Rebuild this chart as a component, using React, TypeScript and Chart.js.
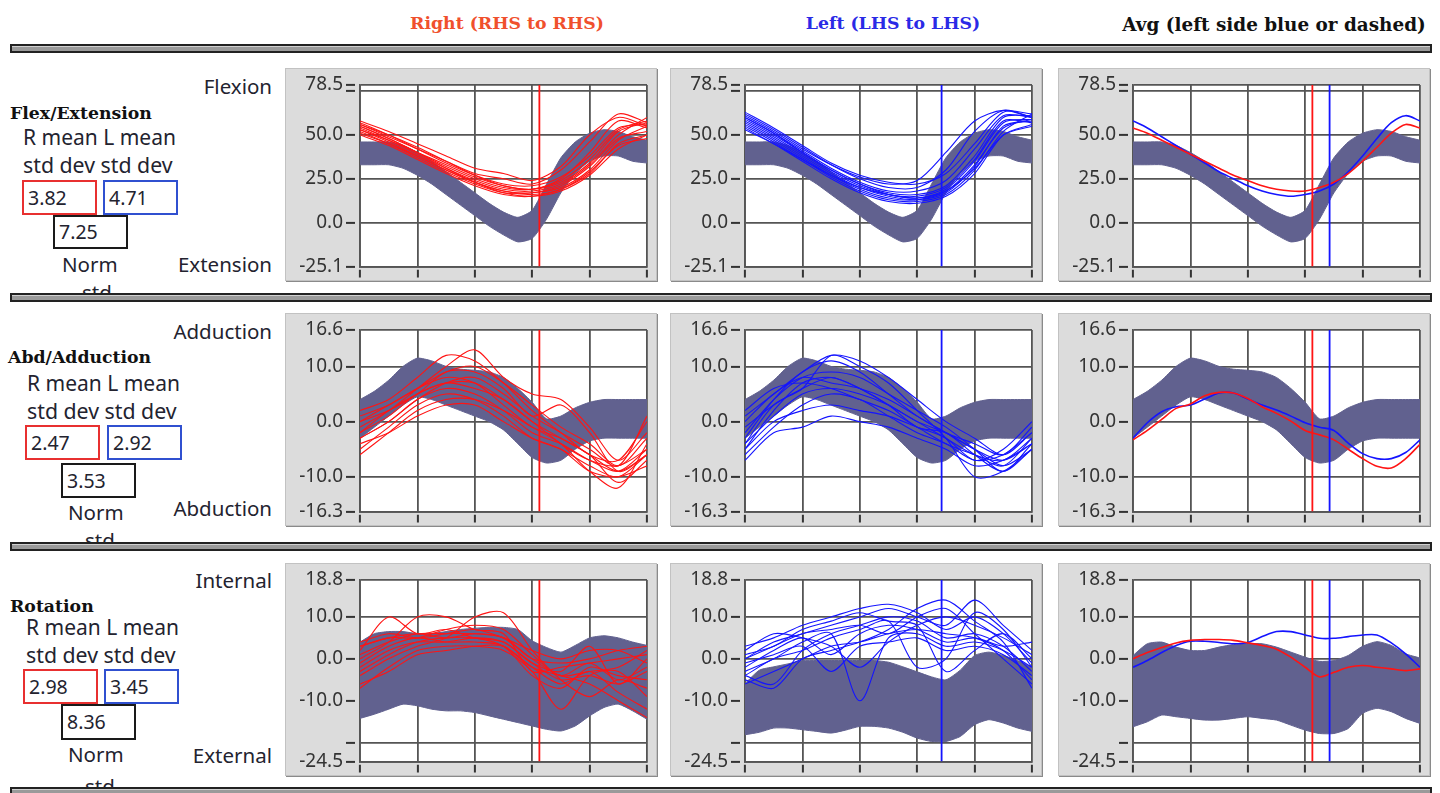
import React, { useEffect, useRef } from 'react';
import { Chart, registerables } from 'chart.js';

Chart.register(...registerables);

// ---------- x positions (% of gait cycle) ----------
const X11 = [0, 10, 20, 30, 40, 50, 60, 70, 80, 90, 100];
const X21 = [0, 5, 10, 15, 20, 25, 30, 35, 40, 45, 50, 55, 60, 65, 70, 75, 80, 85, 90, 95, 100];
const X_TICKS = [0, 20, 40, 60, 80, 100];

// ---------- toe-off markers ----------
const RIGHT_TOE_OFF = 62.5;
const LEFT_TOE_OFF = 68.5;

// ---------- headers / labels ----------
const HEADERS = ['Right (RHS to RHS)', 'Left (LHS to LHS)', 'Avg (left side blue or dashed)'];
const ROW_TITLES = ['Flex/Extension', 'Abd/Adduction', 'Rotation'];
const TOP_LABELS = ['Flexion', 'Adduction', 'Internal'];
const BOTTOM_LABELS = ['Extension', 'Abduction', 'External'];
const R_STD = ['3.82', '2.47', '2.98'];
const L_STD = ['4.71', '2.92', '3.45'];
const NORM_STD = ['7.25', '3.53', '8.36'];

// ---------- Flex / Extension ----------
const flexTicks = [78.5, 75, 50, 25, 0, -25.1];
const flexTickLabels = ['78.5', '', '50.0', '25.0', '0.0', '-25.1'];
const flexNormUpper = [46, 46, 46, 44, 40, 35, 29, 23, 17, 11, 6, 3, 7, 22, 37, 46, 51, 53, 52, 49, 47];
const flexNormLower = [33, 33, 33, 31, 27, 22, 16, 10, 4, -2, -7, -11, -9, 2, 17, 28, 35, 38, 38, 35, 34];
const flexRightMean = [54, 51, 47, 43, 39, 35, 31, 27, 24, 21, 19, 18, 18, 20, 23, 28, 35, 43, 51, 56, 54];
const flexLeftMean = [58, 54, 49, 44, 39, 34, 29, 25, 21, 18, 16, 15, 16, 18, 22, 29, 38, 48, 57, 61, 58];
const flexRightTrials = [
  [57, 50, 42, 34, 27, 22, 21, 26, 38, 54, 56],
  [52, 45, 37, 29, 22, 17, 17, 21, 32, 48, 52],
  [55, 48, 40, 32, 25, 20, 19, 24, 36, 53, 58],
  [53, 46, 38, 30, 23, 18, 17, 20, 30, 47, 55],
  [58, 52, 45, 38, 31, 28, 24, 32, 50, 60, 55],
  [56, 49, 42, 35, 28, 25, 22, 30, 46, 62, 57],
  [50, 44, 36, 28, 21, 16, 15, 19, 28, 45, 50],
  [54, 47, 39, 31, 24, 19, 18, 22, 33, 50, 60],
  [51, 45, 38, 30, 23, 18, 16, 19, 29, 44, 48],
  [56, 50, 43, 35, 27, 21, 19, 23, 34, 52, 57],
  [53, 47, 40, 33, 26, 21, 19, 25, 40, 58, 54],
  [55, 48, 40, 31, 23, 17, 15, 18, 27, 42, 50],
];
const flexLeftTrials = [
  [60, 51, 41, 31, 23, 18, 18, 24, 42, 61, 60],
  [56, 47, 37, 27, 19, 14, 13, 18, 33, 54, 59],
  [62, 53, 43, 33, 25, 20, 20, 30, 52, 64, 60],
  [55, 46, 36, 26, 18, 13, 12, 16, 30, 52, 62],
  [58, 49, 39, 29, 21, 16, 15, 20, 36, 58, 57],
  [61, 52, 42, 33, 26, 22, 24, 40, 58, 64, 60],
  [54, 45, 35, 25, 17, 12, 11, 15, 28, 50, 56],
  [59, 50, 40, 30, 22, 17, 16, 21, 38, 60, 61],
  [57, 48, 38, 28, 20, 15, 13, 17, 32, 55, 58],
  [63, 54, 44, 34, 27, 23, 22, 28, 45, 63, 62],
  [53, 45, 36, 27, 20, 16, 14, 18, 31, 50, 55],
  [60, 51, 40, 30, 22, 16, 14, 19, 35, 57, 59],
];

// ---------- Abd / Adduction ----------
const abdTicks = [16.6, 10, 0, -10, -16.3];
const abdTickLabels = ['16.6', '10.0', '0.0', '-10.0', '-16.3'];
const abdNormUpper = [4, 5.5, 7.5, 10, 11.5, 11, 10, 9.5, 9.3, 9, 8, 6, 3.5, 0.5, 1, 2.5, 3.5, 4, 4, 4, 4];
const abdNormLower = [-3, -1, 1, 3, 4.5, 4, 3, 2, 1, 0, -1.5, -4, -6.5, -7.5, -7, -5, -3.5, -3, -3, -3, -3];
const abdRightMean = [-3.3, -1.6, 0.4, 2.4, 3.2, 4.7, 5.3, 5.2, 4.2, 2.7, 1.5, 0.1, -1.6, -2.4, -3.3, -5, -6.7, -8.1, -8.4, -6.7, -4.1];
const abdLeftMean = [-3, -0.2, 1.8, 2.7, 3, 4.1, 5.2, 5.2, 4.1, 3, 2.1, 1, -0.2, -1, -1.6, -3.9, -5.8, -6.7, -6.7, -5.6, -3.3];
const abdRightTrials = [
  [-3, 0, 4, 6, 5, 2, -2, -4, -7, -9, -5],
  [-5, -1, 3, 5, 4, 1, -3, -5, -8, -10, -6],
  [0, 3, 6, 9, 10, 7, 3, -1, -4, -8, -3],
  [2, 4, 8, 12, 11, 7, 2, -2, -6, -7, 0],
  [-2, 1, 5, 7, 7, 4, 0, -3, -6, -11, -7],
  [-6, -2, 2, 4, 4, 2, -1, -4, -9, -12, -4],
  [-1, 2, 6, 10, 13, 8, 5, 4, -1, -7, -2],
  [-4, -2, 1, 3, 3, 0, -3, -5, -9, -10, -8],
  [1, 3, 6, 8, 7, 3, -1, -3, -6, -9, -6],
  [-3, 0, 4, 7, 8, 5, 1, -2, -5, -8, 1],
  [-2, 2, 5, 7, 6, 4, 0, -4, -7, -8, -5],
  [0, 2, 5, 9, 9, 6, 1, 3, -2, -9, -6],
];
const abdLeftTrials = [
  [-5, 2, 7, 8, 6, 3, 0, -3, -6, -7, -3],
  [-3, 4, 9, 11, 9, 5, 1, -2, -5, -8, -5],
  [0, 5, 8, 7, 6, 4, 1, -2, -4, -6, -1],
  [-7, -2, -1, 1, 0, -1, -3, -5, -8, -7, -4],
  [-4, 3, 6, 12, 10, 7, 2, -3, -10, -9, -5],
  [2, 6, 7, 6, 4, 2, -1, -4, -6, -8, -3],
  [-6, -1, 3, 5, 4, 1, -2, -4, -7, -6, -2],
  [-2, 4, 8, 9, 8, 5, 2, -1, -5, -9, -4],
  [-5, 0, 2, 3, 2, 1, -1, -3, -7, -5, 0],
  [1, 5, 9, 12, 11, 8, 4, 0, -3, -6, -2],
  [-4, 1, 5, 6, 5, 3, 0, -2, -5, -7, -4],
  [-1, 3, 6, 8, 6, 3, -1, -2, -6, -9, -5],
];

// ---------- Rotation ----------
const rotTicks = [18.8, 10, 0, -10, -20, -24.5];
const rotTickLabels = ['18.8', '10.0', '0.0', '-10.0', '', '-24.5'];
const rotNormUpperR = [4, 6, 6.5, 6.5, 6, 6, 6.5, 7, 7.3, 7.5, 7.5, 7, 4.3, 2.7, 1.6, 3.2, 5, 5.5, 5, 4, 3.2];
const rotNormLowerR = [-14.2, -13.2, -12, -10.8, -11.2, -12, -12.4, -12.4, -12.8, -13.6, -14.4, -15.2, -16, -16.8, -17.2, -16, -13.6, -11.6, -10.8, -12.4, -14.4];
const rotNormUpperL = [-5.9, -2.7, -1.9, -1.2, -0.4, -0.4, -0.4, -0.4, -0.4, -0.4, -0.8, -1.9, -3.1, -4.3, -5, -2.7, 0.8, 1.6, 0.8, -0.4, -2];
const rotNormLowerL = [-18.1, -17.5, -16.5, -16.5, -16.9, -17.3, -17.7, -17, -16.1, -16.1, -16.5, -17.5, -18.9, -19.7, -19.7, -18.5, -15.7, -14.5, -15.3, -16.5, -17.3];
const rotNormUpperAvg = [0.8, 3.6, 4, 2.8, 2, 2, 2.8, 3.4, 3.6, 3.6, 2.8, 1.6, 0.4, -0.6, -0.4, 0.8, 3, 4.1, 3.2, 1.2, 0.2];
const rotNormLowerAvg = [-16.2, -15, -13.4, -13.8, -14.2, -14.6, -14.6, -14.2, -13.8, -14.2, -14.6, -15.8, -17, -17.8, -17.8, -16.6, -13, -11.8, -12.6, -14.2, -15.4];
const rotRightMean = [0, 1.5, 2.7, 3.8, 4.4, 4.6, 4.6, 4.4, 3.8, 3.2, 2.3, 0.4, -2, -4.3, -3.2, -2, -1.6, -2, -2.4, -2.8, -2.4];
const rotLeftMean = [-2, -0.4, 1.5, 3.2, 4.2, 4.2, 3.9, 3.6, 3.9, 5.3, 6.5, 6.5, 5.7, 4.9, 4.9, 5.3, 5.7, 5.7, 3.8, 1.2, -2];
const rotRightTrials = [
  [3, 5, 6, 5, 6, 5, 0, -4, -3, -2, 2],
  [-2, 2, 4, 4, 5, 4, -1, -5, -4, -6, -3],
  [-6, -3, 1, 2, 3, 3, -2, -6, -3, -8, -12],
  [0, 4, 10, 10, 7, 6, -3, -2, -1, 0, 1],
  [4, 6, 5, 6, 7, 5, 2, 0, 2, 2, -1],
  [-4, 0, 3, 5, 10, 11, 2, -5, -9, -5, -7],
  [-1, 3, 5, 4, 4, 3, -4, -7, -2, -4, -5],
  [2, 10, 6, 7, 5, 4, -1, -3, 3, -6, 0],
  [-7, -2, 2, 3, 3, 2, -3, -12, -4, -3, -9],
  [1, 4, 6, 6, 6, 5, 0, -1, 0, 2, 3],
  [-3, 1, 4, 5, 5, 3, -2, -4, -6, -10, -14],
  [3, 5, 5, 7, 8, 7, 1, -4, -1, -5, -2],
];
const rotLeftTrials = [
  [-4, -6, 2, 6, 8, 10, 9, 5, 6, 3, -3],
  [0, 4, 6, 8, 10, 12, 10, 8, 14, 8, 2],
  [-6, -3, 0, 3, 4, 6, 7, 6, 5, 2, -5],
  [2, 6, 5, 3, -2, 4, 8, 10, 8, 5, 1],
  [-3, 0, 4, 6, -10, 5, 6, 3, 4, 2, -2],
  [1, 3, 7, 9, 11, 9, 8, -3, 2, 6, 0],
  [-5, -7, 0, 2, 4, 7, 12, 14, 9, 4, -7],
  [-2, 2, 5, 1, 6, 8, 7, 4, 5, 3, 4],
  [3, 5, 8, 10, 12, 13, 11, 7, 10, 6, -1],
  [-1, 1, 3, -3, 3, 4, 5, 2, 3, 1, -4],
  [-4, 0, 2, 5, 7, 9, -2, 0, 11, 7, -2],
  [0, 3, 6, 7, 8, 6, 10, 12, 6, 0, -6],
];

// ---------- styling constants ----------
const RED = '#ff1414';
const BLUE = '#1414ff';
const BAND = '#61618f';
const GRID = '#555555';
const PANEL_W = 372;
const PANEL_H = 213;
const LABEL_FONT = '"Noto Sans", "Open Sans", sans-serif';
const TEXT_COLOR = '#23232f';

type Line = { xs: number[]; ys: number[]; color: string; width: number };
type PanelProps = {
  left: number;
  top: number;
  yMin: number;
  yMax: number;
  ticks: number[];
  labels: string[];
  bandUpper: number[];
  bandLower: number[];
  lines: Line[];
  markers: { x: number; color: string }[];
};

const plotBg = {
  id: 'plotBg',
  beforeDraw(chart: any) {
    const { ctx, chartArea: a } = chart;
    ctx.save();
    ctx.fillStyle = '#ffffff';
    ctx.fillRect(a.left, a.top, a.right - a.left, a.bottom - a.top);
    ctx.restore();
  },
};

function Panel(p: PanelProps) {
  const ref = useRef<HTMLCanvasElement>(null);
  useEffect(() => {
    const ds: any[] = [];
    ds.push({
      data: X21.map((x, i) => ({ x, y: p.bandUpper[i] })),
      borderColor: BAND,
      borderWidth: 1,
      backgroundColor: BAND,
      pointRadius: 0,
      tension: 0.2,
      fill: '+1',
      order: 10,
    });
    ds.push({
      data: X21.map((x, i) => ({ x, y: p.bandLower[i] })),
      borderColor: BAND,
      borderWidth: 1,
      pointRadius: 0,
      tension: 0.2,
      fill: false,
      order: 10,
    });
    p.lines.forEach((l) =>
      ds.push({
        data: l.xs.map((x, i) => ({ x, y: l.ys[i] })),
        borderColor: l.color,
        borderWidth: l.width,
        pointRadius: 0,
        tension: 0.3,
        fill: false,
        order: 2,
      })
    );
    p.markers.forEach((m) =>
      ds.push({
        data: [
          { x: m.x, y: p.yMin },
          { x: m.x, y: p.yMax },
        ],
        borderColor: m.color,
        borderWidth: 1.8,
        pointRadius: 0,
        fill: false,
        order: 1,
      })
    );
    const chart = new Chart(ref.current as HTMLCanvasElement, {
      type: 'line',
      data: { datasets: ds },
      options: {
        responsive: false,
        animation: false,
        events: [],
        layout: { padding: { top: 17, right: 10, bottom: 1, left: 0 } },
        plugins: { legend: { display: false }, tooltip: { enabled: false } },
        scales: {
          x: {
            type: 'linear',
            min: 0,
            max: 100,
            afterBuildTicks: (s: any) => {
              s.ticks = X_TICKS.map((v) => ({ value: v }));
            },
            afterFit: (s: any) => {
              s.height = 12;
            },
            ticks: { callback: () => '', autoSkip: false, maxRotation: 0 },
            grid: {
              color: GRID,
              lineWidth: 1.8,
              drawTicks: true,
              tickLength: 11,
              tickColor: '#333',
              tickWidth: 2,
              tickBorderDash: [0, 2, 9, 60],
            },
            border: { display: true, color: GRID, width: 1.8 },
          },
          y: {
            type: 'linear',
            min: p.yMin,
            max: p.yMax,
            afterBuildTicks: (s: any) => {
              s.ticks = p.ticks.map((v) => ({ value: v }));
            },
            afterFit: (s: any) => {
              s.width = 75;
            },
            ticks: {
              autoSkip: false,
              padding: 3,
              color: '#333',
              font: { family: '"Noto Sans", sans-serif', size: 19 },
              callback: (v: any) => {
                const i = p.ticks.indexOf(Number(v));
                return i >= 0 ? p.labels[i] : '';
              },
            },
            grid: {
              color: GRID,
              lineWidth: 1.8,
              drawTicks: true,
              tickLength: 14,
              tickColor: '#333',
              tickWidth: 2,
              tickBorderDash: [9, 60],
            },
            border: { display: true, color: GRID, width: 1.8 },
          },
        },
      } as any,
      plugins: [plotBg],
    });
    return () => chart.destroy();
  }, []);
  return (
    <div
      style={{
        position: 'absolute',
        left: p.left,
        top: p.top,
        width: PANEL_W,
        height: PANEL_H,
        background: '#dcdcdc',
        boxShadow: 'inset 0 0 0 1px #c2c2c2, 1px 1px 0 #8a8a8a',
      }}
    >
      <canvas ref={ref} width={PANEL_W} height={PANEL_H} style={{ display: 'block' }} />
    </div>
  );
}

function Txt(props: { x: number; cy: number; text: string; right?: boolean; style?: React.CSSProperties }) {
  const base: React.CSSProperties = {
    position: 'absolute',
    top: props.cy - 15,
    height: 30,
    lineHeight: '30px',
    whiteSpace: 'nowrap',
    fontFamily: LABEL_FONT,
    fontSize: 20.5,
    color: TEXT_COLOR,
  };
  if (props.right) base.right = 1440 - props.x;
  else base.left = props.x;
  return <div style={{ ...base, ...props.style }}>{props.text}</div>;
}

function Box(props: { x: number; y: number; h: number; color: string; text: string }) {
  return (
    <div
      style={{
        position: 'absolute',
        left: props.x,
        top: props.y,
        width: 75,
        height: props.h,
        boxSizing: 'border-box',
        border: `2px solid ${props.color}`,
        background: '#fff',
        fontFamily: LABEL_FONT,
        fontSize: 19.5,
        lineHeight: `${props.h - 4}px`,
        paddingLeft: 4,
        color: TEXT_COLOR,
      }}
    >
      {props.text}
    </div>
  );
}

function Separator(props: { y: number }) {
  return (
    <div
      style={{
        position: 'absolute',
        left: 10,
        top: props.y,
        width: 1422,
        height: 9,
        boxSizing: 'border-box',
        border: '2px solid #222',
        background: '#9a9a9a',
        boxShadow: 'inset 0 1px 0 #d0d0d0',
        zIndex: 5,
      }}
    />
  );
}

const serifBold: React.CSSProperties = {
  fontFamily: '"DejaVu Serif", serif',
  fontWeight: 'bold',
  fontSize: 17.3,
};

type RowLayout = {
  panelTop: number;
  topLabelCy: number;
  bottomLabelCy: number;
  titleX: number;
  titleCy: number;
  meanX: number;
  meanCy: number;
  stdCy: number;
  redX: number;
  blueX: number;
  boxY: number;
  normBoxX: number;
  normBoxY: number;
  normBoxH: number;
  normX: number;
  normCy: number;
  stdX: number;
  stdTextCy: number;
};

const ROWS: RowLayout[] = [
  { panelTop: 68, topLabelCy: 86, bottomLabelCy: 264, titleX: 10, titleCy: 113, meanX: 23, meanCy: 137, stdCy: 165, redX: 22, blueX: 103, boxY: 180, normBoxX: 53, normBoxY: 215, normBoxH: 34, normX: 62, normCy: 264, stdX: 82, stdTextCy: 292 },
  { panelTop: 313, topLabelCy: 331, bottomLabelCy: 508, titleX: 8, titleCy: 357, meanX: 27, meanCy: 383, stdCy: 411, redX: 25, blueX: 107, boxY: 425, normBoxX: 61, normBoxY: 463, normBoxH: 35, normX: 68, normCy: 512, stdX: 85, stdTextCy: 540 },
  { panelTop: 563, topLabelCy: 580, bottomLabelCy: 755, titleX: 10, titleCy: 606, meanX: 26, meanCy: 627, stdCy: 655, redX: 23, blueX: 104, boxY: 669, normBoxX: 61, normBoxY: 704, normBoxH: 36, normX: 68, normCy: 754, stdX: 85, stdTextCy: 786 },
];

const PANEL_X = [285, 670, 1058];

function trialLines(trials: number[][], color: string): Line[] {
  return trials.map((ys) => ({ xs: X11, ys, color, width: 1.1 }));
}

export default function App() {
  const rowData = [
    {
      yMin: -25.1, yMax: 78.5, ticks: flexTicks, labels: flexTickLabels,
      bands: [[flexNormUpper, flexNormLower], [flexNormUpper, flexNormLower], [flexNormUpper, flexNormLower]],
      right: flexRightTrials, left: flexLeftTrials, rMean: flexRightMean, lMean: flexLeftMean,
    },
    {
      yMin: -16.3, yMax: 16.6, ticks: abdTicks, labels: abdTickLabels,
      bands: [[abdNormUpper, abdNormLower], [abdNormUpper, abdNormLower], [abdNormUpper, abdNormLower]],
      right: abdRightTrials, left: abdLeftTrials, rMean: abdRightMean, lMean: abdLeftMean,
    },
    {
      yMin: -24.5, yMax: 18.8, ticks: rotTicks, labels: rotTickLabels,
      bands: [[rotNormUpperR, rotNormLowerR], [rotNormUpperL, rotNormLowerL], [rotNormUpperAvg, rotNormLowerAvg]],
      right: rotRightTrials, left: rotLeftTrials, rMean: rotRightMean, lMean: rotLeftMean,
    },
  ];

  return (
    <div style={{ position: 'absolute', left: 0, top: 0, width: 1440, height: 793, overflow: 'hidden', background: '#fff' }}>
      <Txt x={507 - 120} cy={23} text={HEADERS[0]} style={{ ...serifBold, color: '#f0502d', width: 240, textAlign: 'center' }} />
      <Txt x={893 - 120} cy={23} text={HEADERS[1]} style={{ ...serifBold, color: '#2a2ae6', width: 240, textAlign: 'center' }} />
      <Txt x={1274 - 180} cy={25} text={HEADERS[2]} style={{ ...serifBold, fontSize: 18.4, color: '#111', width: 360, textAlign: 'center' }} />

      {[44, 293, 542, 787].map((y) => (
        <Separator key={y} y={y} />
      ))}

      {ROWS.map((r, ri) => {
        const d = rowData[ri];
        return (
          <React.Fragment key={ri}>
            <Txt x={272} cy={r.topLabelCy} text={TOP_LABELS[ri]} right />
            <Txt x={272} cy={r.bottomLabelCy} text={BOTTOM_LABELS[ri]} right />
            <Txt x={r.titleX} cy={r.titleCy} text={ROW_TITLES[ri]} style={{ ...serifBold, color: '#111' }} />
            <Txt x={r.meanX} cy={r.meanCy} text="R mean L mean" style={{ fontSize: 21 }} />
            <Txt x={r.meanX} cy={r.stdCy} text="std dev std dev" style={{ fontSize: 21.3 }} />
            <Box x={r.redX} y={r.boxY} h={35} color="#e83030" text={R_STD[ri]} />
            <Box x={r.blueX} y={r.boxY} h={35} color="#3050d0" text={L_STD[ri]} />
            <Box x={r.normBoxX} y={r.normBoxY} h={r.normBoxH} color="#1a1a1a" text={NORM_STD[ri]} />
            <Txt x={r.normX} cy={r.normCy} text="Norm" />
            <Txt x={r.stdX} cy={r.stdTextCy} text="std" />

            <Panel
              left={PANEL_X[0]} top={r.panelTop} yMin={d.yMin} yMax={d.yMax} ticks={d.ticks} labels={d.labels}
              bandUpper={d.bands[0][0]} bandLower={d.bands[0][1]}
              lines={trialLines(d.right, RED)}
              markers={[{ x: RIGHT_TOE_OFF, color: RED }]}
            />
            <Panel
              left={PANEL_X[1]} top={r.panelTop} yMin={d.yMin} yMax={d.yMax} ticks={d.ticks} labels={d.labels}
              bandUpper={d.bands[1][0]} bandLower={d.bands[1][1]}
              lines={trialLines(d.left, BLUE)}
              markers={[{ x: LEFT_TOE_OFF, color: BLUE }]}
            />
            <Panel
              left={PANEL_X[2]} top={r.panelTop} yMin={d.yMin} yMax={d.yMax} ticks={d.ticks} labels={d.labels}
              bandUpper={d.bands[2][0]} bandLower={d.bands[2][1]}
              lines={[
                { xs: X21, ys: d.rMean, color: RED, width: 1.6 },
                { xs: X21, ys: d.lMean, color: BLUE, width: 1.6 },
              ]}
              markers={[
                { x: RIGHT_TOE_OFF, color: RED },
                { x: LEFT_TOE_OFF, color: BLUE },
              ]}
            />
          </React.Fragment>
        );
      })}
    </div>
  );
}
